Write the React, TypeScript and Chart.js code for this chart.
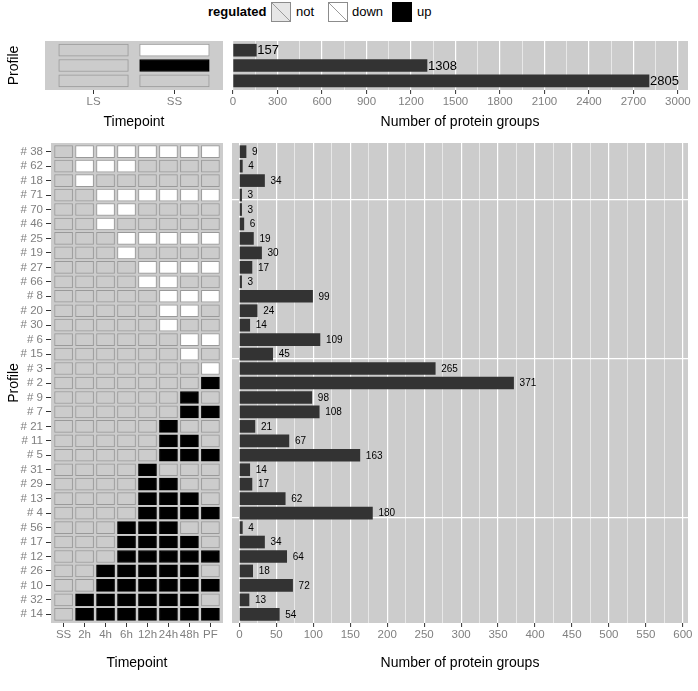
import { useEffect, useRef } from 'react';
import { Chart, registerables } from 'chart.js';

Chart.register(...registerables);

const FONT = '"Liberation Sans", Arial, Helvetica, sans-serif';

// ---------- data ----------
const legendTitle = 'regulated';
const legendLabels = ['not', 'down', 'up'];
const legendStates = [0, -1, 1];

const topTimepoints = ['LS', 'SS'];
const topRows = ['', '', ''];
const topRegulation = [
  [0, -1],
  [0, 1],
  [0, 0],
];
const topCounts = [157, 1308, 2805];
const topTicks = [0, 300, 600, 900, 1200, 1500, 1800, 2100, 2400, 2700, 3000];

const timepoints = ['SS', '2h', '4h', '6h', '12h', '24h', '48h', 'PF'];
const profiles = [
  '# 38', '# 62', '# 18', '# 71', '# 70', '# 46', '# 25', '# 19', '# 27', '# 66', '# 8',
  '# 20', '# 30', '# 6', '# 15', '# 3', '# 2', '# 9', '# 7', '# 21', '# 11', '# 5',
  '# 31', '# 29', '# 13', '# 4', '# 56', '# 17', '# 12', '# 26', '# 10', '# 32', '# 14',
];
const regulation = [
  [0, -1, -1, -1, -1, -1, -1, -1],
  [0, -1, -1, -1, 0, 0, 0, 0],
  [0, -1, 0, 0, 0, 0, 0, 0],
  [0, 0, -1, -1, -1, -1, -1, -1],
  [0, 0, -1, -1, 0, 0, 0, 0],
  [0, 0, -1, 0, 0, 0, 0, 0],
  [0, 0, 0, -1, -1, -1, -1, -1],
  [0, 0, 0, -1, 0, 0, 0, 0],
  [0, 0, 0, 0, -1, -1, -1, -1],
  [0, 0, 0, 0, -1, -1, 0, 0],
  [0, 0, 0, 0, 0, -1, -1, -1],
  [0, 0, 0, 0, 0, -1, -1, 0],
  [0, 0, 0, 0, 0, -1, 0, 0],
  [0, 0, 0, 0, 0, 0, -1, -1],
  [0, 0, 0, 0, 0, 0, -1, 0],
  [0, 0, 0, 0, 0, 0, 0, -1],
  [0, 0, 0, 0, 0, 0, 0, 1],
  [0, 0, 0, 0, 0, 0, 1, 0],
  [0, 0, 0, 0, 0, 0, 1, 1],
  [0, 0, 0, 0, 0, 1, 0, 0],
  [0, 0, 0, 0, 0, 1, 1, 0],
  [0, 0, 0, 0, 0, 1, 1, 1],
  [0, 0, 0, 0, 1, 0, 0, 0],
  [0, 0, 0, 0, 1, 1, 0, 0],
  [0, 0, 0, 0, 1, 1, 1, 0],
  [0, 0, 0, 0, 1, 1, 1, 1],
  [0, 0, 0, 1, 1, 1, 0, 0],
  [0, 0, 0, 1, 1, 1, 1, 0],
  [0, 0, 0, 1, 1, 1, 1, 1],
  [0, 0, 1, 1, 1, 1, 1, 0],
  [0, 0, 1, 1, 1, 1, 1, 1],
  [0, 1, 1, 1, 1, 1, 1, 0],
  [0, 1, 1, 1, 1, 1, 1, 1],
];
const counts = [9, 4, 34, 3, 3, 6, 19, 30, 17, 3, 99, 24, 14, 109, 45, 265, 371, 98, 108, 21, 67, 163, 14, 17, 62, 180, 4, 34, 64, 18, 72, 13, 54];
const bottomTicks = [0, 50, 100, 150, 200, 250, 300, 350, 400, 450, 500, 550, 600];
const bottomRowGridlines = [3.3, 14.3, 25.3];

const xTitle = 'Number of protein groups';
const tileXTitle = 'Timepoint';
const yTitle = 'Profile';

// ---------- styling ----------
const PANEL = '#cccccc';
const BAR = '#333333';
const TICK_TEXT = '#7f7f7f';
const TICK_MARK = '#333333';
const fillOf = (s: number) => (s > 0 ? '#000000' : s < 0 ? '#ffffff' : '#cccccc');
const borderOf = (s: number) => (s > 0 ? '#000000' : '#999999');

type Rect = { l: number; t: number; r: number; b: number };

const TOP_Y = { t: 30, b: 132, at: 41, ab: 90 };
const BOT_Y = { t: 132, b: 691, at: 143, ab: 623 };

const panelBg = {
  id: 'panelBg',
  beforeDraw(chart: any) {
    const { ctx, chartArea: a } = chart;
    ctx.save();
    ctx.fillStyle = PANEL;
    ctx.fillRect(a.left, a.top, a.right - a.left, a.bottom - a.top);
    ctx.restore();
  },
};

function labelPlugin(size: number, offset: number) {
  return {
    id: 'valueLabels',
    afterDatasetsDraw(chart: any) {
      const { ctx } = chart;
      const meta = chart.getDatasetMeta(0);
      const data = chart.data.datasets[0].data;
      ctx.save();
      ctx.font = `${size}px ${FONT}`;
      ctx.fillStyle = '#000000';
      ctx.textAlign = 'left';
      ctx.textBaseline = 'middle';
      meta.data.forEach((el: any, i: number) => {
        ctx.fillText(String(data[i].x), el.x + offset, el.y + 0.5);
      });
      ctx.restore();
    },
  };
}

function xTitleCfg(text: string, pb: number) {
  return {
    display: true,
    text,
    color: '#000000',
    font: { family: FONT, size: 14 },
    padding: { top: 0, bottom: pb },
  };
}

function rowAxis(n: number, tickValues: number[], extra: any) {
  return {
    type: 'linear',
    reverse: true,
    offset: false,
    min: -0.6,
    max: n - 0.4,
    afterBuildTicks: (s: any) => {
      s.ticks = tickValues.map((v) => ({ value: v }));
      s.min = -0.6;
      s.max = n - 0.4;
    },
    border: { display: false },
    ...extra,
  };
}

function tileConfig(o: {
  rows: string[];
  cols: string[];
  matrix: number[][];
  canvas: Rect;
  area: Rect;
  showRowLabels: boolean;
  hw: number;
  thickness: number;
  titlePad: number;
}) {
  const n = o.rows.length;
  const datasets = o.cols.map((_, c) => ({
    data: o.rows.map((_, i) => ({ x: [c - o.hw, c + o.hw], y: i })),
    backgroundColor: o.rows.map((_, i) => fillOf(o.matrix[i][c])),
    borderColor: o.rows.map((_, i) => borderOf(o.matrix[i][c])),
    borderWidth: 1,
    borderSkipped: false,
    barThickness: o.thickness,
    grouped: false,
  }));
  return {
    type: 'bar',
    data: { datasets },
    options: {
      indexAxis: 'y',
      animation: false,
      responsive: false,
      events: [],
      layout: { padding: { top: o.area.t - o.canvas.t, right: o.canvas.r - o.area.r, left: 0, bottom: 0 } },
      plugins: { legend: { display: false }, tooltip: { enabled: false } },
      scales: {
        x: {
          type: 'linear',
          offset: false,
          min: -0.6,
          max: o.cols.length - 0.4,
          afterBuildTicks: (s: any) => {
            s.ticks = o.cols.map((_, i) => ({ value: i }));
            s.min = -0.6;
            s.max = o.cols.length - 0.4;
          },
          afterFit: (s: any) => {
            s.height = o.canvas.b - o.area.b;
          },
          border: { display: false },
          grid: { display: true, offset: false, drawOnChartArea: false, drawTicks: true, tickLength: 4, tickColor: TICK_MARK, tickWidth: 1 },
          ticks: {
            autoSkip: false,
            maxRotation: 0,
            minRotation: 0,
            padding: 1,
            color: TICK_TEXT,
            font: { family: FONT, size: 11.5 },
            callback: (v: any) => o.cols[v] ?? '',
          },
          title: xTitleCfg(tileXTitle, o.titlePad),
        },
        y: rowAxis(
          n,
          o.rows.map((_, i) => i),
          {
            afterFit: (s: any) => {
              s.width = o.area.l - o.canvas.l;
            },
            grid: {
              display: true,
              offset: false,
              drawOnChartArea: false,
              drawTicks: true,
              tickLength: 5,
              tickColor: o.showRowLabels ? TICK_MARK : 'rgba(0,0,0,0)',
              tickWidth: 1,
            },
            ticks: {
              display: true,
              autoSkip: false,
              padding: 3,
              color: TICK_TEXT,
              font: { family: FONT, size: 11.5 },
              callback: (v: any) => (o.showRowLabels ? o.rows[v] ?? '' : ''),
            },
            title: {
              display: true,
              text: yTitle,
              color: '#000000',
              font: { family: FONT, size: 14 },
              padding: { top: 6, bottom: 0 },
            },
          }
        ),
      },
    },
    plugins: [panelBg],
  };
}

function barConfig(o: {
  values: number[];
  ticks: number[];
  rowLines: number[];
  canvas: Rect;
  area: Rect;
  min: number;
  max: number;
  thickness: number;
  labelSize: number;
  labelOffset: number;
  titlePad: number;
}) {
  const n = o.values.length;
  const minor = o.ticks.slice(1).map((v, i) => (v + o.ticks[i]) / 2);
  const all = [...o.ticks, ...minor].sort((a, b) => a - b);
  const isMajor = (v: number) => o.ticks.includes(v);
  return {
    type: 'bar',
    data: {
      datasets: [
        {
          data: o.values.map((v, i) => ({ x: v, y: i })),
          backgroundColor: BAR,
          borderWidth: 0,
          barThickness: o.thickness,
        },
      ],
    },
    options: {
      indexAxis: 'y',
      animation: false,
      responsive: false,
      events: [],
      layout: { padding: { top: o.area.t - o.canvas.t, right: o.canvas.r - o.area.r, left: 0, bottom: 0 } },
      plugins: { legend: { display: false }, tooltip: { enabled: false } },
      scales: {
        x: {
          type: 'linear',
          offset: false,
          min: o.min,
          max: o.max,
          afterBuildTicks: (s: any) => {
            s.ticks = all.map((v) => ({ value: v }));
            s.min = o.min;
            s.max = o.max;
          },
          afterFit: (s: any) => {
            s.height = o.canvas.b - o.area.b;
          },
          border: { display: false },
          grid: {
            offset: false,
            color: '#ffffff',
            lineWidth: (c: any) => (c.tick && isMajor(c.tick.value) ? 1.2 : 0.55),
            drawTicks: true,
            tickLength: 4,
            tickColor: (c: any) => (c.tick && isMajor(c.tick.value) ? TICK_MARK : 'rgba(0,0,0,0)'),
            tickWidth: 1,
          },
          ticks: {
            autoSkip: false,
            maxRotation: 0,
            minRotation: 0,
            padding: 1,
            color: TICK_TEXT,
            font: { family: FONT, size: 11.5 },
            callback: (v: any) => (isMajor(v) ? String(v) : ''),
          },
          title: xTitleCfg(xTitle, o.titlePad),
        },
        y: rowAxis(n, o.rowLines.length ? o.rowLines : [0], {
          afterFit: (s: any) => {
            s.width = o.area.l - o.canvas.l;
          },
          grid: {
            display: true,
            offset: false,
            drawOnChartArea: true,
            drawTicks: false,
            color: (c: any) => (c.tick && o.rowLines.includes(c.tick.value) ? '#ffffff' : 'rgba(0,0,0,0)'),
            lineWidth: 1.2,
          },
          ticks: { display: true, autoSkip: false, padding: 0, color: 'rgba(0,0,0,0)', font: { family: FONT, size: 8 }, callback: () => '' },
        }),
      },
    },
    plugins: [panelBg, labelPlugin(o.labelSize, o.labelOffset)],
  };
}

function LegendKey({ state, left }: { state: number; left: number }) {
  const fill = state > 0 ? '#000000' : state < 0 ? '#ffffff' : '#e6e6e6';
  const line = '#9a9a9a';
  const bg =
    state > 0
      ? fill
      : `linear-gradient(to top right, ${fill} calc(50% - 0.6px), ${line} 50%, ${fill} calc(50% + 0.6px))`;
  return (
    <div
      style={{
        position: 'absolute',
        left,
        top: 2,
        width: 18,
        height: 18,
        background: bg,
        border: `1px solid ${state > 0 ? '#000' : '#8c8c8c'}`,
      }}
    />
  );
}

export default function App() {
  const tl = useRef<HTMLCanvasElement>(null);
  const tr = useRef<HTMLCanvasElement>(null);
  const bl = useRef<HTMLCanvasElement>(null);
  const br = useRef<HTMLCanvasElement>(null);

  useEffect(() => {
    const charts: Chart[] = [];
    charts.push(
      new Chart(
        tl.current as HTMLCanvasElement,
        tileConfig({
          rows: topRows,
          cols: topTimepoints,
          matrix: topRegulation,
          canvas: { l: 0, t: TOP_Y.t, r: 228, b: TOP_Y.b },
          area: { l: 45, t: TOP_Y.at, r: 223, b: TOP_Y.ab },
          showRowLabels: false,
          hw: 0.43,
          thickness: 12,
          titlePad: 1,
        }) as any
      )
    );
    charts.push(
      new Chart(
        tr.current as HTMLCanvasElement,
        barConfig({
          values: topCounts,
          ticks: topTicks,
          rowLines: [],
          canvas: { l: 228, t: TOP_Y.t, r: 698, b: TOP_Y.b },
          area: { l: 232, t: TOP_Y.at, r: 688, b: TOP_Y.ab },
          min: -7,
          max: 3068,
          thickness: 12,
          labelSize: 13,
          labelOffset: 1,
          titlePad: 1,
        }) as any
      )
    );
    charts.push(
      new Chart(
        bl.current as HTMLCanvasElement,
        tileConfig({
          rows: profiles,
          cols: timepoints,
          matrix: regulation,
          canvas: { l: 0, t: BOT_Y.t, r: 228, b: BOT_Y.b },
          area: { l: 51, t: BOT_Y.at, r: 223, b: BOT_Y.ab },
          showRowLabels: true,
          hw: 0.43,
          thickness: 12,
          titlePad: 19,
        }) as any
      )
    );
    charts.push(
      new Chart(
        br.current as HTMLCanvasElement,
        barConfig({
          values: counts,
          ticks: bottomTicks,
          rowLines: bottomRowGridlines,
          canvas: { l: 228, t: BOT_Y.t, r: 698, b: BOT_Y.b },
          area: { l: 232, t: BOT_Y.at, r: 688, b: BOT_Y.ab },
          min: -10,
          max: 607,
          thickness: 12,
          labelSize: 10,
          labelOffset: 6,
          titlePad: 19,
        }) as any
      )
    );
    return () => charts.forEach((c) => c.destroy());
  }, []);

  const legendLeft = [271, 328, 392];
  const legendTextLeft = [296, 352, 417];

  return (
    <div
      style={{
        position: 'absolute',
        left: 0,
        top: 0,
        width: 698,
        height: 691,
        background: '#ffffff',
        fontFamily: FONT,
        overflow: 'hidden',
      }}
    >
      <div style={{ position: 'absolute', left: 208, top: 4, fontSize: 13, fontWeight: 'bold', lineHeight: '15px' }}>
        {legendTitle}
      </div>
      {legendLabels.map((lab, i) => (
        <div key={lab}>
          <LegendKey state={legendStates[i]} left={legendLeft[i]} />
          <div style={{ position: 'absolute', left: legendTextLeft[i], top: 4, fontSize: 13, lineHeight: '15px' }}>{lab}</div>
        </div>
      ))}
      <canvas ref={tl} width={228} height={TOP_Y.b - TOP_Y.t} style={{ position: 'absolute', left: 0, top: TOP_Y.t }} />
      <canvas ref={tr} width={470} height={TOP_Y.b - TOP_Y.t} style={{ position: 'absolute', left: 228, top: TOP_Y.t }} />
      <canvas ref={bl} width={228} height={BOT_Y.b - BOT_Y.t} style={{ position: 'absolute', left: 0, top: BOT_Y.t }} />
      <canvas ref={br} width={470} height={BOT_Y.b - BOT_Y.t} style={{ position: 'absolute', left: 228, top: BOT_Y.t }} />
    </div>
  );
}
